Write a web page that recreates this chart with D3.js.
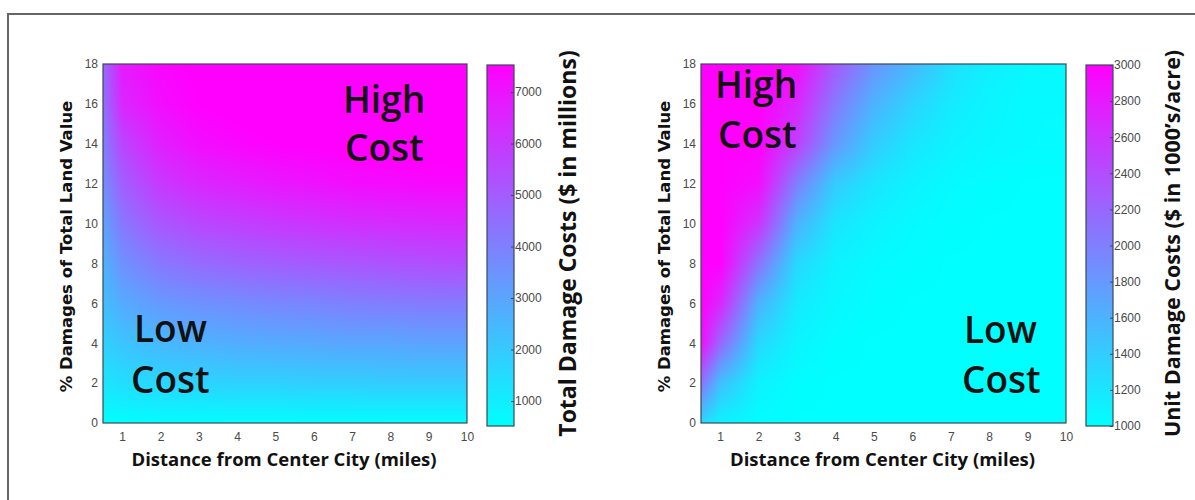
<!DOCTYPE html>
<html>
<head>
<meta charset="utf-8">
<script src="https://cdn.jsdelivr.net/npm/d3@7"></script>
<style>
  html, body { margin: 0; padding: 0; background: #fff; }
  svg { display: block; }
  .tick text { font-family: 'Liberation Sans Narrow', 'Arial Narrow', 'Liberation Sans', sans-serif; font-size: 12px; fill: #4a4a4a; }
  .ytitle { font-family: 'DejaVu Sans', 'Liberation Sans', sans-serif; font-weight: bold; font-size: 16.5px; fill: #111; }
  .xtitle, .ctitle { font-family: 'Open Sans', 'Noto Sans', sans-serif; font-weight: bold; fill: #111; }
  .note { font-family: 'Open Sans', 'Noto Sans', sans-serif; font-weight: 600; font-size: 37px; fill: #111; }
</style>
</head>
<body>
<svg id="chart" width="1195" height="500"></svg>
<script>
// ── Data ─────────────────────────────────────────────────────────────

// grid of the surfaces: distance (miles) and % damages
const X_GRID = [0.5, 1, 2, 3, 4, 5, 6, 7, 8, 9, 10];
const Y_GRID = [0, 2, 4, 6, 8, 10, 12, 14, 16, 18];

// total damage costs ($ millions), one row per Y_GRID value
const TOTAL_COST = [
  [530, 540, 550, 550, 560, 560, 560, 570, 570, 570, 570],
  [1220, 1430, 1640, 1710, 1780, 1780, 1850, 1850, 1920, 1920, 1920],
  [1780, 2130, 2480, 2620, 2760, 2830, 2900, 2970, 2970, 3040, 3040],
  [2270, 2830, 3320, 3530, 3670, 3810, 3880, 4020, 4090, 4160, 4160],
  [2620, 3530, 4230, 4580, 4790, 4930, 5070, 5140, 5280, 5350, 5420],
  [3040, 4230, 5140, 5560, 5770, 5980, 6120, 6260, 6330, 6400, 6470],
  [3600, 4930, 5980, 6470, 6680, 6900, 7030, 7170, 7240, 7310, 7310],
  [4020, 5630, 6680, 7170, 7380, 7530, 7600, 7650, 7700, 7750, 7800],
  [4370, 6470, 7170, 7530, 7650, 7750, 7850, 7900, 7950, 8000, 8050],
  [4580, 6820, 7380, 7600, 7800, 7950, 8050, 8150, 8200, 8250, 8300]
];

// unit damage costs ($ 1000's / acre), one row per Y_GRID value
const UNIT_COST = [
  [1300, 1100, 1020, 1000, 1000, 1000, 1000, 1000, 1000, 1000, 1000],
  [2100, 1500, 1100, 1020, 1000, 1000, 1000, 1000, 1000, 1000, 1000],
  [2900, 2200, 1300, 1080, 1020, 1000, 1000, 1000, 1000, 1000, 1000],
  [3000, 2700, 1600, 1160, 1060, 1020, 1000, 1000, 1000, 1000, 1000],
  [3000, 3000, 2100, 1300, 1100, 1040, 1020, 1000, 1000, 1000, 1000],
  [3000, 3000, 2600, 1600, 1200, 1100, 1040, 1020, 1000, 1000, 1000],
  [3000, 3000, 2900, 2000, 1400, 1200, 1100, 1040, 1020, 1000, 1000],
  [3000, 3000, 3000, 2500, 1800, 1400, 1200, 1100, 1060, 1040, 1020],
  [3000, 3000, 3000, 2700, 2040, 1600, 1340, 1160, 1080, 1040, 1040],
  [3000, 3000, 3000, 2900, 2300, 1840, 1560, 1260, 1120, 1060, 1040]
];

const X_TICKS = [1, 2, 3, 4, 5, 6, 7, 8, 9, 10];
const Y_TICKS = [0, 2, 4, 6, 8, 10, 12, 14, 16, 18];
const TOTAL_CBAR_TICKS = [1000, 2000, 3000, 4000, 5000, 6000, 7000];
const UNIT_CBAR_TICKS = [1000, 1200, 1400, 1600, 1800, 2000, 2200, 2400, 2600, 2800, 3000];

const X_TITLE = 'Distance from Center City (miles)';
const Y_TITLE = '% Damages of Total Land Value';

// ── Layout ───────────────────────────────────────────────────────────

const PANELS = [
  {
    values: TOTAL_COST, domain: [515, 7525], cticks: TOTAL_CBAR_TICKS,
    ctitle: 'Total Damage Costs ($ in millions)', ctitleSize: 23,
    left: 103, top: 64, width: 364, height: 359,
    cbarX: 487, cbarW: 27, cbarTop: 65, cbarBottom: 426,
    ytitleX: 66, ctitleX: 568,
    notes: [
      { text: 'High', x: 343, y: 113 }, { text: 'Cost', x: 345, y: 161 },
      { text: 'Low', x: 134, y: 342 }, { text: 'Cost', x: 131, y: 393 }
    ]
  },
  {
    values: UNIT_COST, domain: [1000, 3000], cticks: UNIT_CBAR_TICKS,
    ctitle: 'Unit Damage Costs ($ in 1000\u2019s/acre)', ctitleSize: 21.5,
    left: 701, top: 64, width: 365, height: 359,
    cbarX: 1086, cbarW: 27, cbarTop: 65, cbarBottom: 426,
    ytitleX: 664, ctitleX: 1172,
    notes: [
      { text: 'High', x: 715, y: 98 }, { text: 'Cost', x: 718, y: 148 },
      { text: 'Low', x: 964, y: 343 }, { text: 'Cost', x: 962, y: 393 }
    ]
  }
];

const svg = d3.select('#chart');

// outer frame (top + left edges only, as in the scan)
svg.append('path')
  .attr('d', 'M8,500 L8,14 L1195,14')
  .attr('fill', 'none')
  .attr('stroke', '#666')
  .attr('stroke-width', 2);

// bilinear lookup on the read grid (shading interp)
function sample(values, xv, yv) {
  const ix = Math.max(0, Math.min(X_GRID.length - 2, d3.bisectRight(X_GRID, xv) - 1));
  const iy = Math.max(0, Math.min(Y_GRID.length - 2, d3.bisectRight(Y_GRID, yv) - 1));
  const fx = Math.max(0, Math.min(1, (xv - X_GRID[ix]) / (X_GRID[ix + 1] - X_GRID[ix])));
  const fy = Math.max(0, Math.min(1, (yv - Y_GRID[iy]) / (Y_GRID[iy + 1] - Y_GRID[iy])));
  const a = values[iy][ix], b = values[iy][ix + 1];
  const c = values[iy + 1][ix], d = values[iy + 1][ix + 1];
  return (a * (1 - fx) + b * fx) * (1 - fy) + (c * (1 - fx) + d * fx) * fy;
}

PANELS.forEach((p, idx) => {
  const x = d3.scaleLinear().domain([0.5, 10]).range([p.left, p.left + p.width]);
  const y = d3.scaleLinear().domain([0, 18]).range([p.top + p.height, p.top]);
  const color = d3.scaleLinear().domain(p.domain).range(['#00ffff', '#ff00ff'])
    .interpolate(d3.interpolateRgb).clamp(true);

  // heat surface
  const cv = document.createElement('canvas');
  cv.width = p.width; cv.height = p.height;
  const ctx = cv.getContext('2d');
  const img = ctx.createImageData(p.width, p.height);
  for (let j = 0; j < p.height; j++) {
    const yv = y.invert(p.top + j + 0.5);
    for (let i = 0; i < p.width; i++) {
      const xv = x.invert(p.left + i + 0.5);
      const c = d3.rgb(color(sample(p.values, xv, yv)));
      const k = (j * p.width + i) * 4;
      img.data[k] = c.r; img.data[k + 1] = c.g; img.data[k + 2] = c.b; img.data[k + 3] = 255;
    }
  }
  ctx.putImageData(img, 0, 0);
  svg.append('image')
    .attr('x', p.left).attr('y', p.top)
    .attr('width', p.width).attr('height', p.height)
    .attr('preserveAspectRatio', 'none')
    .attr('href', cv.toDataURL());

  svg.append('rect')
    .attr('x', p.left).attr('y', p.top)
    .attr('width', p.width).attr('height', p.height)
    .attr('fill', 'none').attr('stroke', '#3a4a55').attr('stroke-width', 1.2);

  // axes
  const xAxis = svg.append('g')
    .attr('transform', `translate(0,${p.top + p.height})`)
    .call(d3.axisBottom(x).tickValues(X_TICKS).tickSize(0).tickPadding(9));
  xAxis.select('.domain').remove();

  const yAxis = svg.append('g')
    .attr('transform', `translate(${p.left},0)`)
    .call(d3.axisLeft(y).tickValues(Y_TICKS).tickSize(0).tickPadding(5));
  yAxis.select('.domain').remove();

  svg.append('text')
    .attr('class', 'xtitle')
    .attr('x', p.left + p.width / 2 - 1)
    .attr('y', 466)
    .attr('text-anchor', 'middle')
    .attr('font-size', 18.5)
    .text(X_TITLE);

  svg.append('text')
    .attr('class', 'ytitle')
    .attr('transform', `translate(${p.ytitleX},${p.top + p.height / 2 + 3}) rotate(-90)`)
    .attr('dy', '0.36em')
    .attr('text-anchor', 'middle')
    .text(Y_TITLE);

  // colour bar
  const gradId = 'cbar-grad-' + idx;
  const grad = svg.append('defs').append('linearGradient')
    .attr('id', gradId)
    .attr('x1', 0).attr('y1', 1).attr('x2', 0).attr('y2', 0);
  grad.selectAll('stop')
    .data(color.range())
    .join('stop')
    .attr('offset', (d, i) => i)
    .attr('stop-color', d => d);

  svg.append('rect')
    .attr('x', p.cbarX).attr('y', p.cbarTop)
    .attr('width', p.cbarW).attr('height', p.cbarBottom - p.cbarTop)
    .attr('fill', `url(#${gradId})`)
    .attr('stroke', '#3a4a55').attr('stroke-width', 1.2);

  const cScale = d3.scaleLinear().domain(p.domain).range([p.cbarBottom, p.cbarTop]);
  const cAxis = svg.append('g')
    .attr('transform', `translate(${p.cbarX + p.cbarW},0)`)
    .call(d3.axisRight(cScale).tickValues(p.cticks).tickFormat(d3.format('d'))
      .tickSizeInner(-3).tickSizeOuter(0).tickPadding(1));
  cAxis.select('.domain').remove();
  cAxis.selectAll('.tick line').attr('stroke', '#3a4a55');

  svg.append('text')
    .attr('class', 'ctitle')
    .attr('transform', `translate(${p.ctitleX},${(p.cbarTop + p.cbarBottom) / 2 - 2}) rotate(-90)`)
    .attr('dy', '0.36em')
    .attr('text-anchor', 'middle')
    .attr('font-size', p.ctitleSize)
    .text(p.ctitle);

  // High / Low cost notes
  svg.selectAll(null)
    .data(p.notes)
    .join('text')
    .attr('class', 'note')
    .attr('x', d => d.x)
    .attr('y', d => d.y)
    .text(d => d.text);
});
</script>
</body>
</html>
